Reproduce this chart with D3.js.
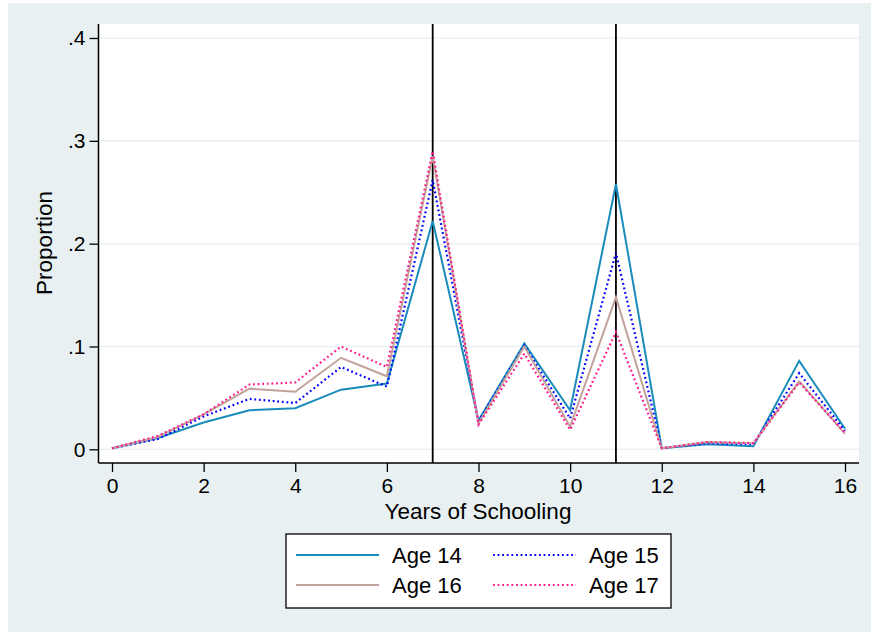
<!DOCTYPE html>
<html>
<head>
<meta charset="utf-8">
<script src="https://cdn.jsdelivr.net/npm/d3@7"></script>
<style>
  body { margin: 0; background: #fff; }
  text { font-family: "Liberation Sans", Arial, sans-serif; fill: #000; }
</style>
</head>
<body>
<div id="chart"></div>
<script>
// ----------------------
// Data
// ----------------------
const years = d3.range(0, 17);
const age14 = [0.001, 0.011, 0.026, 0.038, 0.040, 0.058, 0.064, 0.222, 0.028, 0.103, 0.038, 0.258, 0.001, 0.005, 0.003, 0.086, 0.020];
const age15 = [0.001, 0.010, 0.032, 0.049, 0.045, 0.080, 0.061, 0.262, 0.027, 0.101, 0.030, 0.191, 0.001, 0.006, 0.005, 0.074, 0.018];
const age16 = [0.001, 0.012, 0.034, 0.059, 0.056, 0.089, 0.071, 0.285, 0.025, 0.100, 0.022, 0.148, 0.001, 0.007, 0.006, 0.066, 0.015];
const age17 = [0.001, 0.013, 0.034, 0.063, 0.065, 0.100, 0.080, 0.290, 0.024, 0.093, 0.019, 0.114, 0.001, 0.007, 0.006, 0.065, 0.016];
const xTicks = [0, 2, 4, 6, 8, 10, 12, 14, 16];
const yTicks = [0, 0.1, 0.2, 0.3, 0.4];
const yTickLabels = ["0", ".1", ".2", ".3", ".4"];
const refLines = [7, 11];

const series = [
    { name: "Age 14", values: age14, color: "#1a8cbc", dash: null },
    { name: "Age 15", values: age15, color: "#0000ff", dash: "1.8,2.8" },
    { name: "Age 16", values: age16, color: "#c2a39c", dash: null },
    { name: "Age 17", values: age17, color: "#ff1a8c", dash: "1.8,2.8" }
];

// ----------------------
// Setup
// ----------------------
const W = 871, H = 633;
const plot = { left: 98.5, right: 859, top: 24, bottom: 463 };

const svg = d3.select("#chart")
    .append("svg")
    .attr("width", W)
    .attr("height", H);

// outer panel
svg.append("rect")
    .attr("x", 8).attr("y", 3)
    .attr("width", W - 8).attr("height", H - 4)
    .attr("fill", "#e8f0f2");

// plot region
svg.append("rect")
    .attr("x", plot.left).attr("y", plot.top)
    .attr("width", plot.right - plot.left).attr("height", plot.bottom - plot.top)
    .attr("fill", "#fff");

const x = d3.scaleLinear().domain([0, 16]).range([112, 845]);
const y = d3.scaleLinear().domain([0, 0.4]).range([449.3, 38]);

// gridlines
svg.append("g")
    .selectAll("line")
    .data(yTicks)
    .join("line")
    .attr("x1", plot.left).attr("x2", plot.right)
    .attr("y1", d => y(d)).attr("y2", d => y(d))
    .attr("stroke", "#eaf1f3")
    .attr("stroke-width", 1.5);

// reference lines
svg.append("g")
    .selectAll("line")
    .data(refLines)
    .join("line")
    .attr("x1", d => x(d)).attr("x2", d => x(d))
    .attr("y1", plot.top).attr("y2", plot.bottom)
    .attr("stroke", "#000")
    .attr("stroke-width", 1.8);

// ----------------------
// Lines
// ----------------------
const line = d3.line()
    .x((d, i) => x(years[i]))
    .y(d => y(d));

svg.append("g")
    .selectAll("path")
    .data(series)
    .join("path")
    .attr("d", d => line(d.values))
    .attr("fill", "none")
    .attr("stroke", d => d.color)
    .attr("stroke-width", d => d.dash ? 2.2 : 2)
    .attr("stroke-dasharray", d => d.dash)
    .attr("stroke-linejoin", "miter");

// ----------------------
// Axes
// ----------------------
const yAxis = svg.append("g")
    .attr("transform", `translate(${plot.left},0)`)
    .call(d3.axisLeft(y).tickValues(yTicks).tickFormat((d, i) => yTickLabels[i]).tickSize(9).tickPadding(4));

const xAxis = svg.append("g")
    .attr("transform", `translate(0,${plot.bottom})`)
    .call(d3.axisBottom(x).tickValues(xTicks).tickFormat(d3.format("d")).tickSize(9).tickPadding(6));

[yAxis, xAxis].forEach(a => {
    a.select(".domain").remove();
    a.selectAll("line").attr("stroke", "#000").attr("stroke-width", 1.3);
    a.selectAll("text")
        .style("font-family", "'Liberation Sans', Arial, sans-serif")
        .style("font-size", "21px")
        .attr("fill", "#000");
});

// axis lines
svg.append("line")
    .attr("x1", plot.left).attr("x2", plot.left)
    .attr("y1", plot.top).attr("y2", plot.bottom)
    .attr("stroke", "#000").attr("stroke-width", 1.5);
svg.append("line")
    .attr("x1", plot.left).attr("x2", plot.right)
    .attr("y1", plot.bottom).attr("y2", plot.bottom)
    .attr("stroke", "#000").attr("stroke-width", 1.5);

// titles
svg.append("text")
    .attr("x", 478).attr("y", 519)
    .attr("text-anchor", "middle")
    .style("font-size", "22.5px")
    .text("Years of Schooling");

svg.append("text")
    .attr("transform", "translate(52,243) rotate(-90)")
    .attr("text-anchor", "middle")
    .style("font-size", "22.5px")
    .text("Proportion");

// ----------------------
// Legend
// ----------------------
const legend = svg.append("g");
legend.append("rect")
    .attr("x", 286).attr("y", 534)
    .attr("width", 385).attr("height", 74)
    .attr("fill", "#fff")
    .attr("stroke", "#000")
    .attr("stroke-width", 1.3);

const legendPos = [
    { lx: 296, ty: 555 },
    { lx: 493, ty: 555 },
    { lx: 296, ty: 585 },
    { lx: 493, ty: 585 }
];

series.forEach((s, i) => {
    const p = legendPos[i];
    legend.append("line")
        .attr("x1", p.lx).attr("x2", p.lx + 83)
        .attr("y1", p.ty).attr("y2", p.ty)
        .attr("stroke", s.color)
        .attr("stroke-width", s.dash ? 2 : 1.8)
        .attr("stroke-dasharray", s.dash);
    legend.append("text")
        .attr("x", p.lx + 96).attr("y", p.ty + 8)
        .style("font-size", "22px")
        .text(s.name);
});
</script>
</body>
</html>
